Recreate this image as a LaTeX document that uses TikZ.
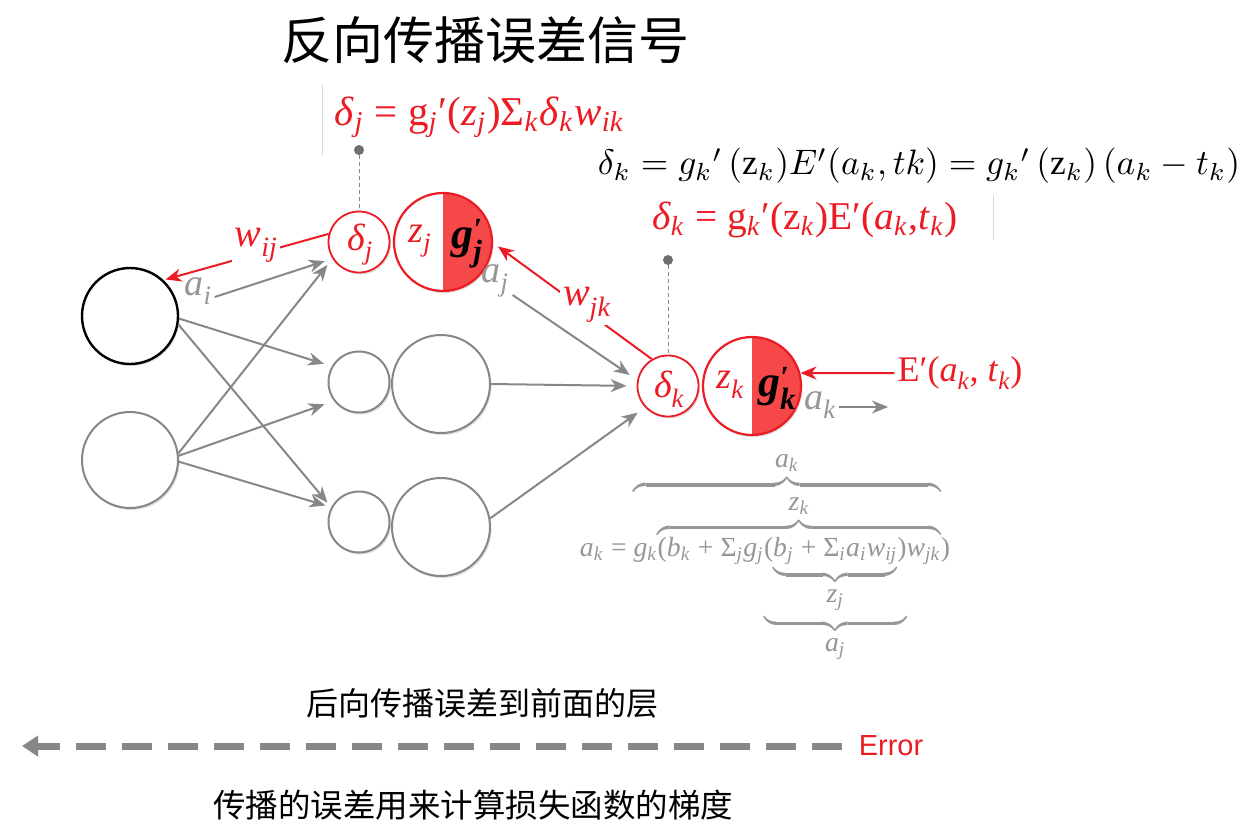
\documentclass[tikz,border=0pt]{standalone}
\usepackage{graphicx}
\usepackage{amsmath}
\usepackage{fontspec}
\setmainfont{Liberation Serif}
\newfontfamily\cjkfont{Noto Sans CJK SC}
\newfontfamily\arialfont{Liberation Sans}
\usetikzlibrary{arrows.meta,shadows,calc}
\definecolor{ered}{RGB}{236,28,36}
\definecolor{fred}{RGB}{246,72,72}
\definecolor{lgray}{RGB}{135,135,135}
\definecolor{tgray}{RGB}{150,150,150}
\definecolor{dgray}{RGB}{110,110,110}
\newcommand\vi[1]{\textit{#1}}
\newcommand\sbi[1]{\textsubscript{\textit{#1}}}
\newcommand\mb[1]{\mbox{#1}}
\begin{document}
\begin{tikzpicture}[x=1pt,y=-1pt,
 every node/.style={inner sep=0pt},
 nrn/.style={circle, draw=lgray, line width=2pt, fill=white,
   drop shadow={shadow xshift=1.5pt,shadow yshift=-2pt,opacity=0.25}},
 inp/.style={nrn, minimum size=96pt},
 sml/.style={nrn, minimum size=61pt},
 big/.style={nrn, minimum size=98pt},
 rsml/.style={sml, draw=ered, line width=1.8pt},
 rbig/.style={big, draw=ered, line width=2.2pt,
   path picture={\fill[fred] (path picture bounding box.north) rectangle (path picture bounding box.south east);}},
 garr/.style={draw=lgray, line width=2pt, -{Stealth[length=16pt,width=13pt,inset=5pt]}},
 rarr/.style={draw=ered, line width=2pt, -{Stealth[length=16pt,width=13pt,inset=5pt]}},
 lab/.style={font=\fontsize{38}{40}\selectfont\itshape},
 wlab/.style={font=\fontsize{40}{40}\selectfont\itshape},
 glab/.style={font=\fontsize{44}{44}\selectfont\bfseries\itshape},
 dotn/.style={circle, fill=dgray, minimum size=10pt},
 dline/.style={draw=lgray, line width=1pt, dash pattern=on 4pt off 3pt},
 cjk/.style={font=\cjkfont\fontsize{#1}{#1}\selectfont}
]
\useasboundingbox (0,0) rectangle (1246,828);

% title
\node[cjk=51] (title) at (485,40) {反向传播误差信号};

% faint lines
\draw[black!15, line width=0.8pt] (322,85) -- (322,155);
\draw[black!15, line width=0.8pt] (993,195) -- (993,240);

% equations
\node[text=ered] (eqj) at (480,117) {\resizebox{290pt}{!}{\vi{δ}\sbi{j} = g\sbi{j}′(\vi{z}\sbi{j})Σ\sbi{k}\vi{δ}\sbi{k}\vi{w}\sbi{ik}}};
\node (eqk) at (919,166) {\resizebox{642pt}{!}{$\delta_k = g_k{}'\,(\mathrm{z}_k)E'(a_k, tk) = g_k{}'\,(\mathrm{z}_k)\,(a_k - t_k)$}};
\node[text=ered] (eqk2) at (805,220) {\resizebox{306pt}{!}{\vi{δ}\sbi{k} = g\sbi{k}′(z\sbi{k})E′(\vi{a}\sbi{k},\vi{t}\sbi{k})}};

% neurons
\node[inp, draw=black, line width=2.4pt] (i1) at (130,316) {};
\node[inp] (i2) at (130,460) {};
\node[rsml] (dj) at (359,242) {};
\node[rbig] (bj) at (443,242) {};
\node[sml] (dj2) at (359,382) {};
\node[big] (bj2) at (441,384) {};
\node[sml] (dj3) at (359,522) {};
\node[big] (bj3) at (441,527) {};
\node[rsml] (dk) at (668,386) {};
\node[rbig] (bk) at (752,386) {};

% texts in neurons
\node[lab, text=ered] (tdj) at (360,245) {δ\sbi{j}};
\node[lab, text=ered] (tzj) at (420,241) {z\sbi{j}};
\node[glab] (tgj) at (467,244) {g\rlap{\textsuperscript{′}}\textsubscript{j}};
\node[lab, text=ered] (tdk) at (669,389) {δ\sbi{k}};
\node[lab, text=ered] (tzk) at (730,385) {z\sbi{k}};
\node[glab] (tgk) at (777,388) {g\rlap{\textsuperscript{′}}\textsubscript{k}};

% activation labels
\node[lab, text=tgray] (ai) at (198,291) {a\sbi{i}};
\node[lab, text=tgray] (aj) at (495,281) {a\sbi{j}};
\node[lab, text=tgray] (ak) at (820,405) {a\sbi{k}};
\coordinate (akend) at (888,407);

% gray forward arrows
\draw[garr, shorten >=8pt] ($(ai.east)+(3,6)$) -- (dj.212);
\draw[garr, shorten >=8pt] (i1.-3) -- (dj2.150);
\draw[garr, shorten >=6pt] (i1.-10) -- (dj3.152);
\draw[garr, shorten >=8pt] (i2.8) -- (dj.212);
\draw[garr, shorten >=10pt] (i2.5) -- (dj2.217);
\draw[garr, shorten >=6pt] (i2.-2) -- (dj3.152);
\draw[garr, shorten >=9pt] ($(aj.east)+(4,14)$) -- (dk.169);
\draw[garr, shorten >=10pt] (bj2.east) -- (dk.180);
\draw[garr, shorten >=9pt] (bj3.10) -- (dk.223);
\draw[garr] ($(ak.east)+(3,2)$) -- (akend);

% red backward arrows
\draw[rarr, shorten >=2pt] (dj.165) -- node[pos=0.44, fill=white, wlab, text=ered, inner sep=3pt, yshift=9pt] (wij) {w\sbi{ij}} (i1.47);
\draw[rarr, shorten >=6pt] (dk.121) -- node[pos=0.41, fill=white, wlab, text=ered, inner sep=3pt, yshift=7pt] (wjk) {w\sbi{jk}} (bj.-1);
\node[text=ered, font=\fontsize{36}{40}\selectfont] (ep) at (960,373) {E′(\vi{a}\sbi{k}, \vi{t}\sbi{k})};
\draw[rarr] ($(ep.west)+(-3,0)$) -- (bk.15);

% dotted pointers
\node[dotn] (dot1) at (359,150) {};
\draw[dline] (dot1) -- (dj.north);
\node[dotn] (dot2) at (668,260) {};
\draw[dline] (dot2) -- (dk.north);

% composite formula
\node[text=tgray] (fa) at (765,557) {\resizebox{370pt}{!}{$\mb{\vi{a}\sbi{k} =\ }%
{\overbrace{\mb{\vi{g}\sbi{k}}{\overbrace{\mb{(\vi{b}\sbi{k} + Σ\sbi{j}\vi{g}\sbi{j}}%
{\underbrace{\mb{(}{\underbrace{\mb{\vi{b}\sbi{j} + Σ\sbi{i}\vi{a}\sbi{i}\vi{w}\sbi{ij}}}_{\mb{\vi{z}\sbi{j}}}}\mb{)}}_{\mb{\vi{a}\sbi{j}}}}%
\mb{\vi{w}\sbi{jk}}}^{\mb{\vi{z}\sbi{k}}}}}^{\mb{\vi{a}\sbi{k}}}}\mb{)}$}};

% bottom
\node[cjk=32] (b1) at (482,703) {后向传播误差到前面的层};
\node[text=ered, font=\arialfont\fontsize{29}{32}\selectfont] (err) at (891,746) {Error};
\coordinate (errend) at (22,746);
\draw[lgray, line width=7pt, dash pattern=on 30pt off 16pt, -{Triangle[length=16pt,width=20pt]}] ($(err.west)+(-17,0)$) -- (errend);
\node[cjk=32.5] (b2) at (473,805) {传播的误差用来计算损失函数的梯度};
\end{tikzpicture}
\end{document}
